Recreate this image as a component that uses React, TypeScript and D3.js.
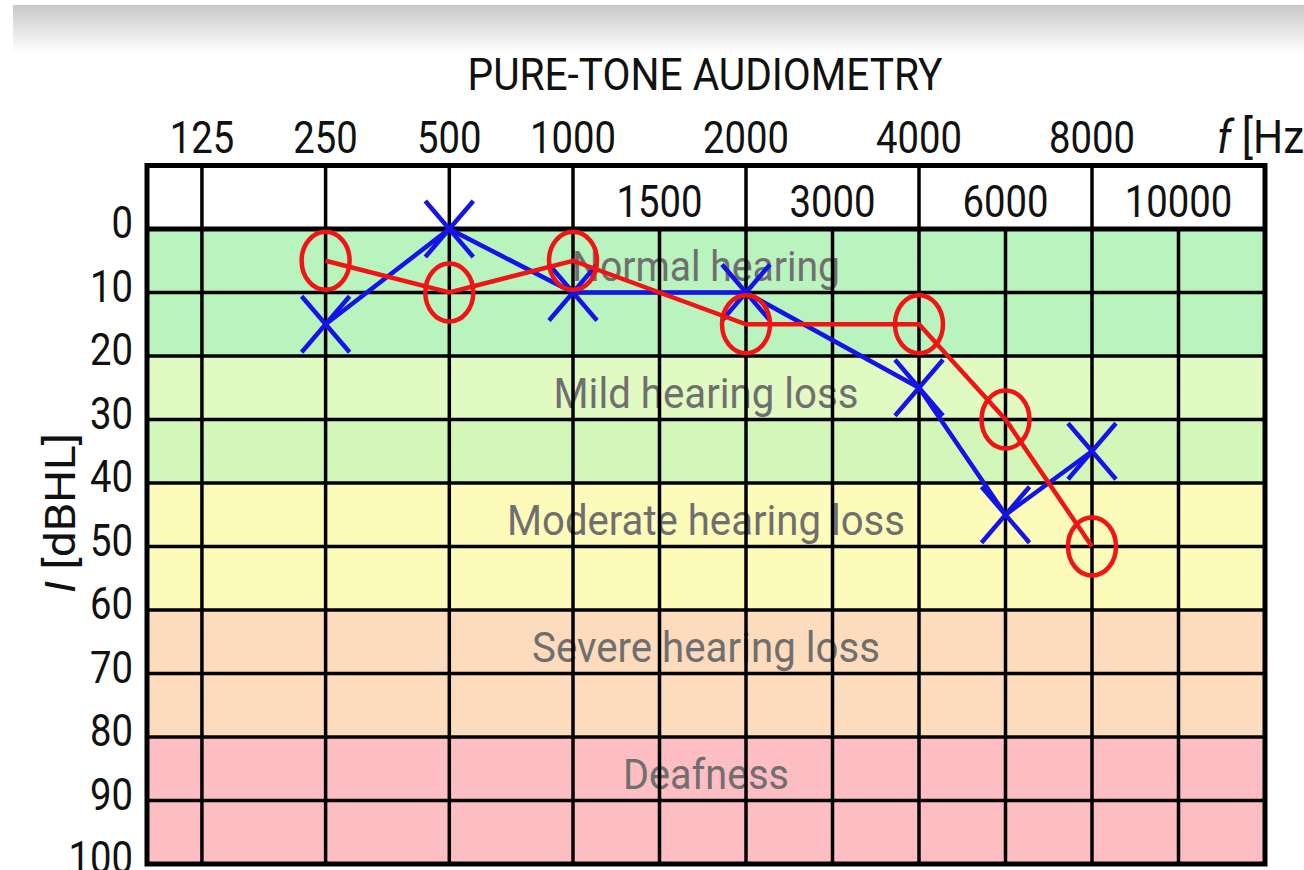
import * as d3 from "d3"

// frequency tick labels
const mainFreqs = [125, 250, 500, 1000, 2000, 4000, 8000]
const midFreqs = [1500, 3000, 6000, 10000]
// hearing level ticks
const levelTicks = [0, 10, 20, 30, 40, 50, 60, 70, 80, 90, 100]

// measured points
const testFreqs = [250, 500, 1000, 2000, 4000, 6000, 8000]
const rightEar = [5, 10, 5, 15, 15, 30, 50]
const leftEar = [15, 0, 10, 10, 25, 45, 35]

// background rows (10 dB each) and zone labels
const rowColors = ["#b9f3bd", "#b9f3bd", "#e1fac2", "#d2f7b8", "#fdfbb9", "#fdfbb9", "#fddcbd", "#fddcbd", "#fcbdc3", "#fcbdc3"]
const zoneNames = ["Normal hearing", "Mild hearing loss", "Moderate hearing loss", "Severe hearing loss", "Deafness"]
const zoneLevels = [10, 30, 50, 70, 90]
const zoneWidths = [268, 305, 398, 348, 166]

const FONT = "Roboto, 'Noto Sans', sans-serif"

// octave position: main freqs on whole octaves, mid freqs half way
const octave = (f: number) => {
  const o = Math.log2(f / 125)
  return mainFreqs.includes(f) ? Math.round(o) : Math.floor(o) + 0.5
}

export default function App() {
  const width = 1304
  const height = 870

  const x = d3.scaleLinear().domain([-0.444, 3, 7]).range([147, 573, 1265])
  const y = d3.scaleLinear().domain([-10, 100]).range([165.5, 864])

  const left = x(-0.444)
  const right = x(7)
  const top = y(-10)
  const bottom = y(100)

  const line = d3.line<[number, number]>()
    .x(d => x(octave(d[0])))
    .y(d => y(d[1]))

  const rightPts = testFreqs.map((f, i) => [f, rightEar[i]] as [number, number])
  const leftPts = testFreqs.map((f, i) => [f, leftEar[i]] as [number, number])

  const allFreqs = [...mainFreqs, ...midFreqs]

  return (
    <svg width={width} height={height} style={{ position: "absolute", left: 0, top: 0, background: "#fff" }}
      fontFamily={FONT}>
      <defs>
        <linearGradient id="shade" x1="0" y1="0" x2="0" y2="1">
          <stop offset="0" stopColor="#c8c8c8" />
          <stop offset="1" stopColor="#ffffff" />
        </linearGradient>
      </defs>
      <rect x={13} y={5} width={width - 13} height={48} fill="url(#shade)" />

      {/* Title */}
      <text x={705} y={90} textAnchor="middle" fontSize={45} fill="#111"
        textLength={475} lengthAdjust="spacingAndGlyphs">PURE-TONE AUDIOMETRY</text>

      {/* background rows */}
      <rect x={left} y={top} width={right - left} height={y(0) - top} fill="#fff" />
      {rowColors.map((c, i) => (
        <rect key={i} x={left} y={y(i * 10)} width={right - left} height={y(10) - y(0)} fill={c} />
      ))}

      {/* zone labels */}
      {zoneNames.map((n, i) => (
        <text key={n} x={706} y={y(zoneLevels[i]) - 12} textAnchor="middle" fontSize={43} fill="#6f6f6f"
          textLength={zoneWidths[i]} lengthAdjust="spacingAndGlyphs">{n}</text>
      ))}

      {/* grid */}
      <g stroke="#000" strokeWidth={3.5}>
        {levelTicks.slice(1, -1).map(v => (
          <line key={v} x1={left} x2={right} y1={y(v)} y2={y(v)} />
        ))}
        {allFreqs.map(f => (
          <line key={f} x1={x(octave(f))} x2={x(octave(f))}
            y1={mainFreqs.includes(f) ? top : y(0)} y2={bottom} />
        ))}
        <line x1={left} x2={right} y1={y(0)} y2={y(0)} strokeWidth={5} />
        <rect x={left} y={top} width={right - left} height={bottom - top} fill="none" strokeWidth={5} />
      </g>

      {/* frequency labels */}
      {mainFreqs.map(f => (
        <text key={f} transform={`translate(${x(octave(f))},153) scale(0.85,1)`} textAnchor="middle"
          fontSize={45} fill="#111">{f}</text>
      ))}
      {midFreqs.map(f => (
        <text key={f} transform={`translate(${x(octave(f))},217) scale(0.85,1)`} textAnchor="middle"
          fontSize={45} fill="#111">{f}</text>
      ))}
      <text transform="translate(1217,153) scale(0.92,1)" fontSize={46} fill="#111">
        <tspan fontStyle="italic">f</tspan> [Hz]
      </text>

      {/* level labels */}
      {levelTicks.map(v => (
        <text key={v} transform={`translate(133,${y(v) + 9}) scale(0.85,1)`} textAnchor="end"
          fontSize={45} fill="#111">{v}</text>
      ))}
      <text transform="translate(75,513) rotate(-90)" textAnchor="middle" fontSize={42} fill="#111"
        textLength={160} lengthAdjust="spacingAndGlyphs">
        <tspan fontStyle="italic">I</tspan> [dBHL]
      </text>

      {/* left ear (blue X) */}
      <path d={line(leftPts) ?? ""} fill="none" stroke="#1414e6" strokeWidth={4.5} />
      {leftPts.map(([f, v]) => {
        const cx = x(octave(f))
        const cy = y(v)
        return (
          <g key={f} stroke="#1414e6" strokeWidth={4.5}>
            <line x1={cx - 24} y1={cy - 28} x2={cx + 24} y2={cy + 28} />
            <line x1={cx - 24} y1={cy + 28} x2={cx + 24} y2={cy - 28} />
          </g>
        )
      })}

      {/* right ear (red O) */}
      <path d={line(rightPts) ?? ""} fill="none" stroke="#f01414" strokeWidth={4.5} />
      {rightPts.map(([f, v]) => (
        <ellipse key={f} cx={x(octave(f))} cy={y(v)} rx={24} ry={29} fill="none" stroke="#f01414" strokeWidth={4.5} />
      ))}
    </svg>
  )
}
